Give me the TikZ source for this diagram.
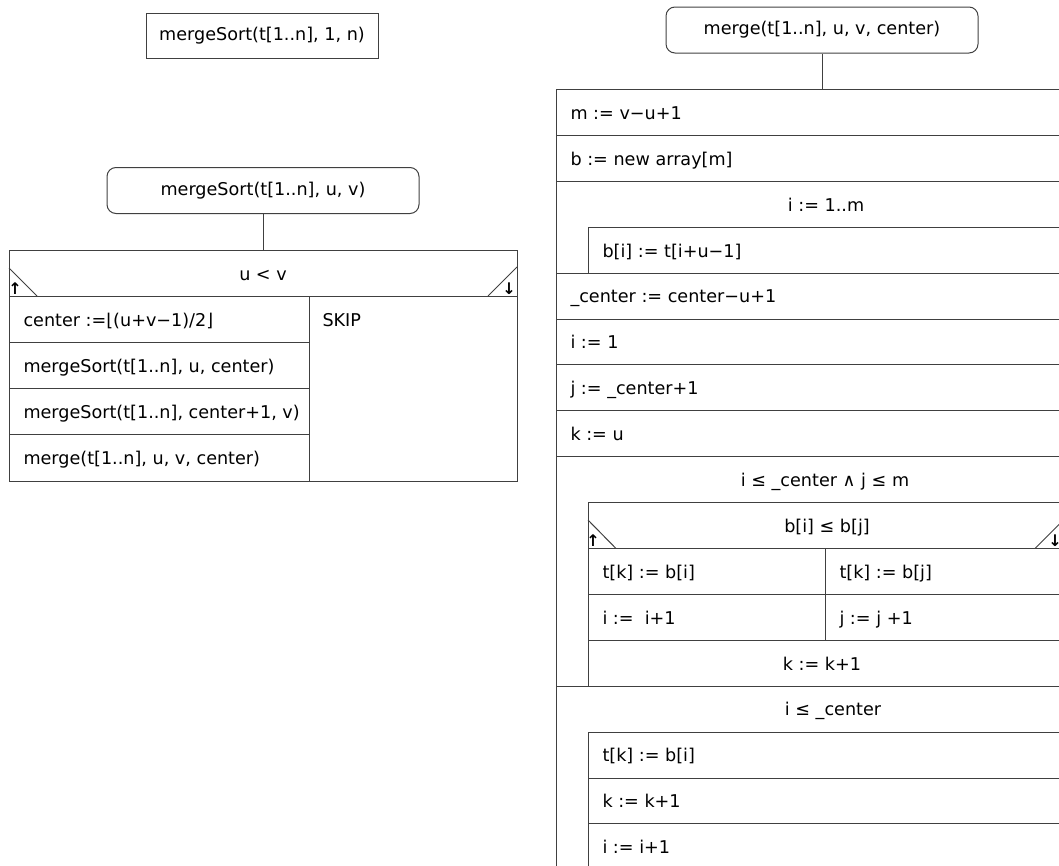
\documentclass[tikz,border=0pt]{standalone}
\usepackage{fontspec}
\setmainfont{DejaVu Sans}
\usepackage{tikz}

\begin{document}
\begin{tikzpicture}[x=1pt,y=-1pt,line width=1pt,draw=black!75,
		every node/.style={font=\fontsize{17.6}{21}\selectfont,inner sep=0pt},
		stmt/.style={anchor=base west},
		head/.style={anchor=base},
		callbox/.style={draw=black!75,rounded corners=9pt,minimum width=312pt,minimum height=46pt},
		plainbox/.style={draw=black!75,minimum width=232pt,minimum height=45pt},
		turn/.style={anchor=south,font=\fontsize{16}{16}\selectfont\bfseries}]
				\useasboundingbox (0,0) rectangle (1059,865);
				\clip (0,0) rectangle (1059,865);
			
				% left: mergeSort
				\begin{scope}
					\node[plainbox] (start) at (262,35.5) {mergeSort(t[1..n], 1, n)};
					\node[callbox] (msHead) at (263,190.5) {mergeSort(t[1..n], u, v)};
					\coordinate (msTop) at (263,250);
					\draw (msHead) -- (msTop);
					\draw (9,250) rectangle (517,481);
					\draw (9,296) -- (517,296);
					\draw (9,342) -- (309,342);
					\draw (9,388) -- (309,388);
					\draw (9,434) -- (309,434);
					\draw (309,296) -- (309,481);
					\draw (9,268) -- (37,296);
					\draw (517,267) -- (488,296);
				\end{scope}
			
				\begin{scope}
					\node[head] (msCond) at (263,280) {u < v};
					\node[turn] (msYes) at (15,295) {↑};
					\node[turn] (msNo) at (509,295) {↓};
					\node[stmt] (msCenter) at (23,326) {center :=⌊(u+v−1)/2⌋};
					\node[stmt] (msLeft) at (23,372) {mergeSort(t[1..n], u, center)};
					\node[stmt] (msRight) at (23,418) {mergeSort(t[1..n], center+1, v)};
					\node[stmt] (msMerge) at (23,464) {merge(t[1..n], u, v, center)};
					\node[stmt] (msSkip) at (322,326) {SKIP};
				\end{scope}
			
				% right: merge
				\begin{scope}
					\node[callbox] (mgHead) at (822,30) {merge(t[1..n], u, v, center)};
					\coordinate (mgTop) at (822,89.5);
					\draw (mgHead) -- (mgTop);
					\draw (1080,89.5) -- (556.5,89.5) -- (556.5,880);
					\draw (556.5,135.4) -- (1080,135.4);
					\draw (556.5,181.3) -- (1080,181.3);
					\draw (588,273.1) |- (1080,227.2);
					\draw (556.5,273.1) -- (1080,273.1);
					\draw (556.5,319) -- (1080,319);
					\draw (556.5,364.9) -- (1080,364.9);
					\draw (556.5,410.8) -- (1080,410.8);
					\draw (556.5,456.7) -- (1080,456.7);
					\draw (588,686.2) |- (1080,502.6);
					\draw (588,548.5) -- (1080,548.5);
					\draw (588,594.4) -- (1080,594.4);
					\draw (588,640.3) -- (1080,640.3);
					\draw (556.5,686.2) -- (1080,686.2);
					\draw (825,548.5) -- (825,640.3);
					\draw (588,880) |- (1080,732.1);
					\draw (588,778) -- (1080,778);
					\draw (588,823.9) -- (1080,823.9);
					\draw (588,520) -- (616,548.5);
					\draw (1035,548.5) -- (1063,520.5);
				\end{scope}
			
				\begin{scope}
					\node[stmt] (mgM) at (570,119) {m := v−u+1};
					\node[stmt] (mgB) at (570,165) {b := new array[m]};
					\node[head] (mgFor) at (826,211) {i := 1..m};
					\node[stmt] (mgCopy) at (602,257) {b[i] := t[i+u−1]};
					\node[stmt] (mgC) at (570,302.6) {\_center := center−u+1};
					\node[stmt] (mgI) at (570,348.5) {i := 1};
					\node[stmt] (mgJ) at (570,394.4) {j := \_center+1};
					\node[stmt] (mgK) at (570,440.3) {k := u};
					\node[head] (mgWhile) at (825,486.2) {i ≤ \_center ∧ j ≤ m};
					\node[head] (mgCond) at (827,532) {b[i] ≤ b[j]};
					\node[turn] (mgYes) at (593,547) {↑};
					\node[turn] (mgNo) at (1055,547) {↓};
					\node[stmt] (mgTi) at (602,578) {t[k] := b[i]};
					\node[stmt] (mgTj) at (839,578) {t[k] := b[j]};
					\node[stmt] (mgIinc) at (602,624) {i :=\ \ i+1};
					\node[stmt] (mgJinc) at (839,624) {j := j +1};
					\node[head] (mgKinc) at (822,670) {k := k+1};
					\node[head] (mgRest) at (833,715.7) {i ≤ \_center};
					\node[stmt] (mgRestT) at (602,761.6) {t[k] := b[i]};
					\node[stmt] (mgRestK) at (602,807.5) {k := k+1};
					\node[stmt] (mgRestI) at (602,853.4) {i := i+1};
				\end{scope}
			\end{tikzpicture}
\end{document}
